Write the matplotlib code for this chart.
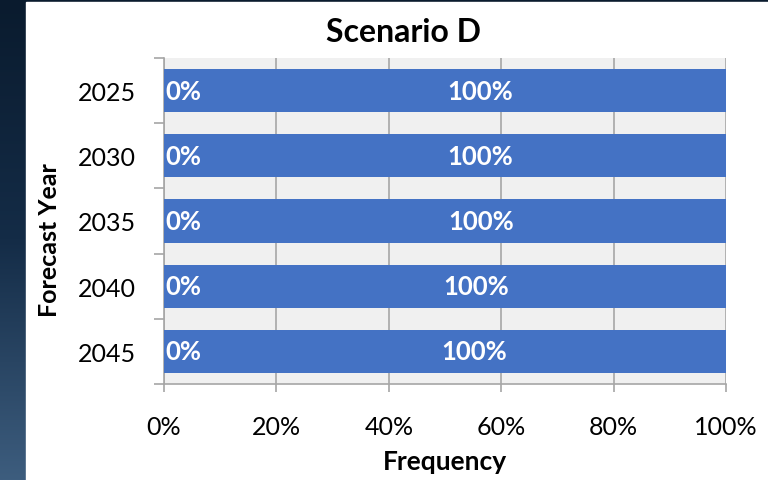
import numpy as np
import matplotlib
matplotlib.use("Agg")
import matplotlib.pyplot as plt
from matplotlib.colors import LinearSegmentedColormap
from matplotlib.ticker import FixedLocator, PercentFormatter

plt.rcParams['font.family'] = ['Lato', 'DejaVu Sans']

years = ["2025", "2030", "2035", "2040", "2045"]
share_low = [0, 0, 0, 0, 0]
share_high = [100, 100, 100, 100, 100]
# where the "100%" labels sit along each bar
label_pos = [56.2, 56.2, 56.4, 55.5, 55.2]

bar_color = "#4472C4"
grid_color = "#A6A6A6"

fig = plt.figure(figsize=(7.68, 4.81), dpi=100)

# dark backdrop with a soft vertical gradient, white chart panel on top
bg = fig.add_axes([0, 0, 1, 1], zorder=-10)
grad = np.linspace(0, 1, 256).reshape(-1, 1)
cmap = LinearSegmentedColormap.from_list("bg", ["#0a1b2e", "#142c47", "#3d5d7e"])
bg.imshow(grad, aspect="auto", cmap=cmap, extent=[0, 1, 0, 1], origin="upper")
bg.add_patch(plt.Rectangle((26 / 768, 0), 1, 1 - 3 / 481, color="white"))
bg.set_xlim(0, 1)
bg.set_ylim(0, 1)
bg.axis("off")

ax = fig.add_axes([164 / 768, 1 - 385 / 481, 562 / 768, 326 / 481])
ax.set_facecolor("#F0F0F0")

y = np.arange(len(years))
ax.barh(y, share_low, height=0.66, color="#ED7D31", zorder=3)
ax.barh(y, share_high, left=share_low, height=0.66, color=bar_color, zorder=3)

for i in range(len(years)):
    ax.text(share_low[i] + 0.3, y[i], f"{share_low[i]}%", color="white", fontsize=18.5,
            fontweight="bold", ha="left", va="center", zorder=4)
    ax.text(label_pos[i], y[i], f"{share_high[i]}%", color="white", fontsize=18.5,
            fontweight="bold", ha="center", va="center", zorder=4)

ax.set_xlim(0, 100)
ax.set_ylim(len(years) - 0.5, -0.5)
ax.xaxis.set_major_locator(FixedLocator([0, 20, 40, 60, 80, 100]))
ax.xaxis.set_major_formatter(PercentFormatter(decimals=0))
ax.grid(axis="x", color=grid_color, linewidth=1.2, zorder=1)
ax.set_axisbelow(True)

ax.set_yticks(y)
ax.set_yticklabels(years)
ax.yaxis.set_minor_locator(FixedLocator(np.arange(-0.5, len(years), 1)))
ax.tick_params(axis="y", which="major", length=0, pad=20, labelsize=18)
ax.tick_params(axis="y", which="minor", length=7, color=grid_color, width=1.2)
ax.tick_params(axis="x", which="major", length=6, color=grid_color, width=1.2,
               labelsize=18, pad=16)

for side in ["top", "right"]:
    ax.spines[side].set_visible(False)
for side in ["left", "bottom"]:
    ax.spines[side].set_color(grid_color)
    ax.spines[side].set_linewidth(1.2)

fig.text(403 / 768, 1 - 32 / 481, "Scenario D", fontsize=23, fontweight="bold",
         ha="center", va="center")
ax.set_xlabel("Frequency", fontsize=19, fontweight="bold", labelpad=8)
ax.set_ylabel("Forecast Year", fontsize=18, fontweight="bold", va="center")
ax.yaxis.set_label_coords(-0.203, 0.445)

fig.savefig("out.png", dpi=100)
